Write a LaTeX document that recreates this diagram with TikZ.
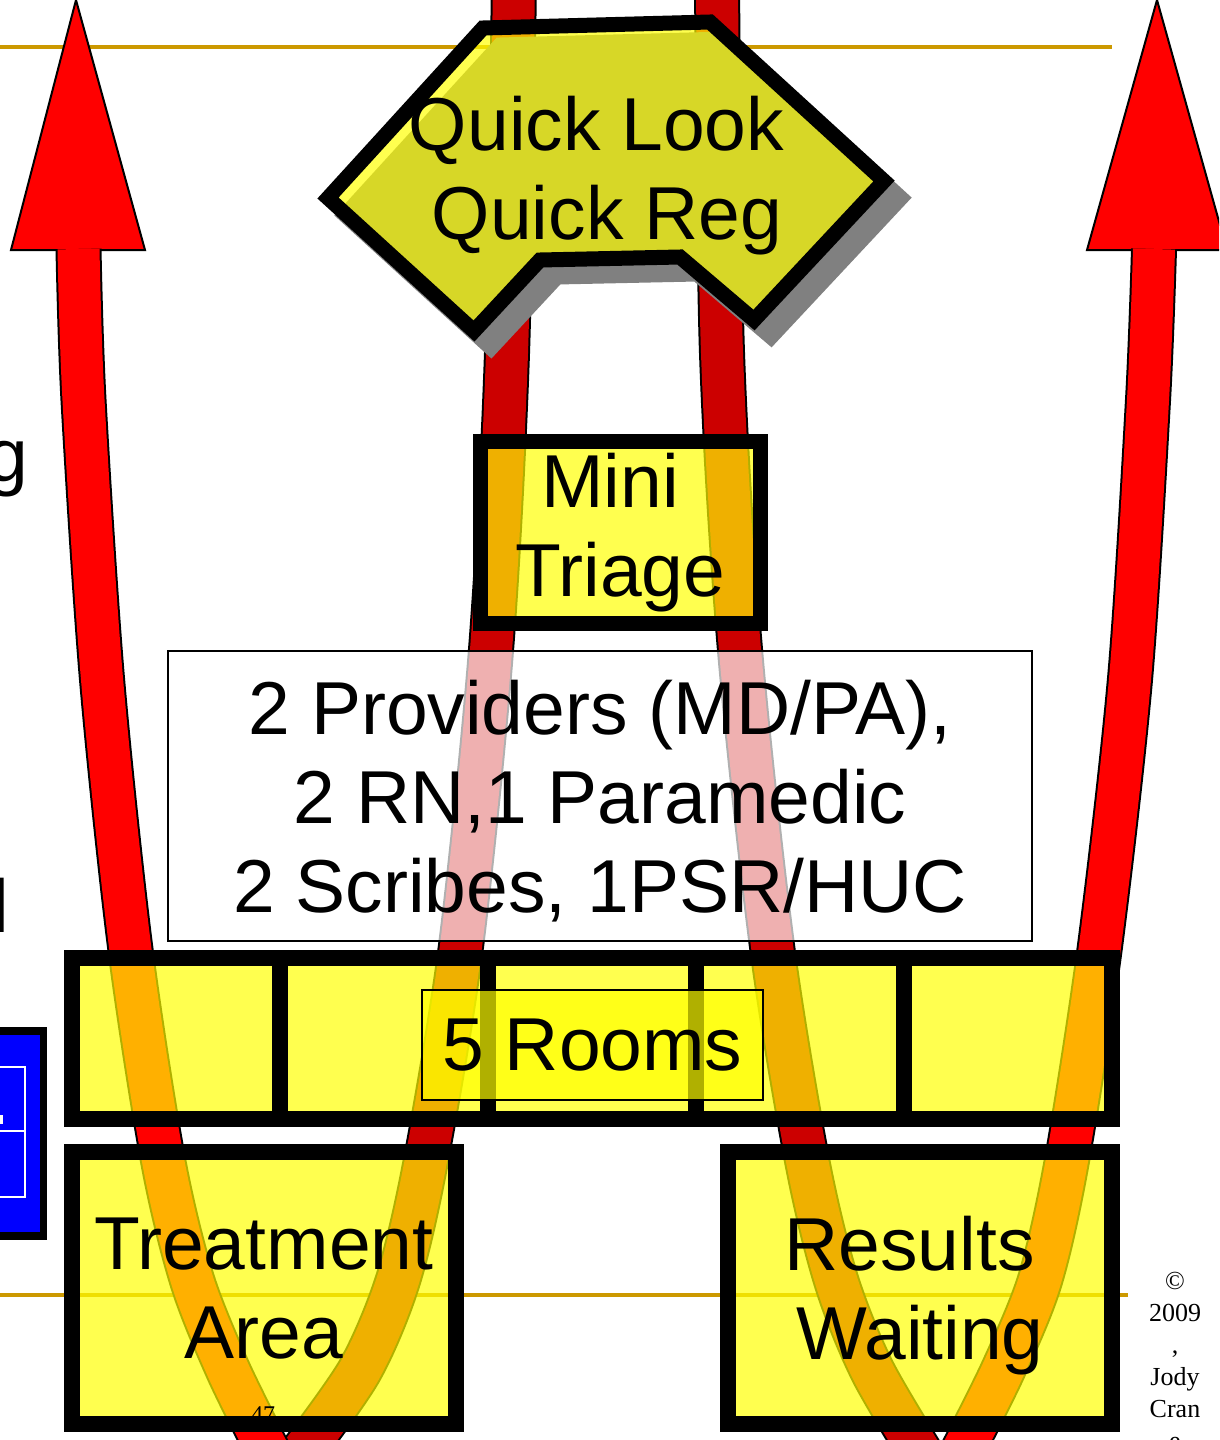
\documentclass[tikz,border=0pt]{standalone}
\usepackage{fontspec}
\setmainfont{Liberation Sans}
\newfontfamily\copyfont{Liberation Serif}
\usepackage{xcolor}
\definecolor{cGold}{HTML}{CC9900}
\definecolor{cRed}{HTML}{FF0000}
\definecolor{cDarkRed}{HTML}{CC0000}
\definecolor{cYellow}{HTML}{FFFF00}
\definecolor{cShadow}{HTML}{808080}
\definecolor{cBlue}{HTML}{0000FF}
\usepackage{tikz}
\usetikzlibrary{positioning}
\newcommand{\bigfont}{\fontsize{75}{89}\selectfont}
\newcommand{\trail}{\rule{0.278em}{0pt}}
\tikzset{
  node-room/.style={draw=black,line width=16pt,fill=cYellow,fill opacity=0.69,
    text opacity=1,inner sep=0pt,outer sep=0pt,align=center,font=\bigfont},
  node-cell/.style={node-room,minimum width=208pt,minimum height=161pt},
  node-note/.style={draw=black,line width=2pt,fill=white,fill opacity=0.69,
    text opacity=1,inner sep=0pt,align=center,font=\bigfont},
  node-small/.style={font=\copyfont\fontsize{26}{32}\selectfont,inner sep=0pt,align=center},
  band-edge/.style={draw=black,line width=46pt,line join=round},
  band-in/.style={draw=cDarkRed,line width=42pt,line join=round},
  band-out/.style={draw=cRed,line width=42pt,line join=round},
  arrow-head/.style={draw=black,line width=2pt,fill=cRed,line join=miter},
  rule-line/.style={draw=cGold,line width=4pt},
}

\begin{document}
\begin{tikzpicture}[x=1pt,y=-1pt]
  \useasboundingbox (0,0) rectangle (1219,1440);
  \clip (0,0) rectangle (1219,1440);
  \fill[white] (0,0) rectangle (1219,1440);

  % slide rules
  \draw[rule-line] (0,47) -- (1112,47);
  \draw[rule-line] (0,1295) -- (1128,1295);

  % cut-off bits at the left edge
  \node[font=\bigfont,inner sep=0pt,anchor=base east] (fragG) at (28,481) {g};
  \node[font=\bigfont,inner sep=0pt,anchor=base east] (fragL) at (9,932) {l};
  \fill[black] (-10,1027) rectangle (47,1240);
  \fill[cBlue] (-10,1035) rectangle (40,1232);
  \draw[white,line width=2.5pt] (-10,1067) rectangle (25,1197) (-10,1131) -- (25,1131);
  \fill[white] (0,1115) rectangle (3,1124);

  % U-turn arrows
  \filldraw[arrow-head] (76,0) -- (145,250) -- (11,250) -- cycle;
  \filldraw[arrow-head] (1157,0) -- (1227,250) -- (1087,250) -- cycle;
  \foreach \s in {band-edge,band-in}
    \draw[\s] plot[smooth] coordinates {(514,-20) (507,353) (491,650) (461,946)
      (426,1160) (398,1280) (360,1370) (300,1455)};
  \foreach \s in {band-edge,band-out}
    \draw[\s] plot[smooth] coordinates {(78.5,249) (83.5,400) (102,679) (130,946)
      (163,1160) (192,1280) (228,1370) (270,1455)};
  \foreach \s in {band-edge,band-in}
    \draw[\s] plot[smooth] coordinates {(717,-20) (722,353) (740,650) (772,946)
      (807,1160) (836,1280) (872,1370) (925,1460)};
  \foreach \s in {band-edge,band-out}
    \draw[\s] plot[smooth] coordinates {(1154,249) (1148,400) (1130,679) (1100,946)
      (1067,1160) (1040,1280) (1003,1370) (958,1460)};

  % quick look sign
  \filldraw[cShadow,line width=15pt,shift={(17,17)}] (483,28) -- (710,22) -- (884,181)
    -- (754,320) -- (680,257) -- (540,260) -- (474,331) -- (328,198) -- cycle;
  \filldraw[fill=cYellow,fill opacity=0.69,draw=black,line width=15pt,line join=miter]
    (483,28) -- (710,22) -- (884,181) -- (754,320) -- (680,257) -- (540,260)
    -- (474,331) -- (328,198) -- cycle;
  \node[font=\bigfont,align=center,inner sep=0pt] (qlook) at (607,176) {Quick Look\trail\\Quick Reg};

  \node[node-room,line width=15pt,minimum width=280pt,minimum height=182pt] (triage)
    at (620.5,532.5) {Mini\trail\\Triage};
  \node[node-note,minimum width=864pt,minimum height=290pt,text depth=0pt] (staff)
    at (600,796) {2 Providers (MD/PA),\\2 RN,1 Paramedic\\2 Scribes, 1PSR/HUC};

  % rooms row
  \node[node-cell] (room1) at (176,1038.5) {};
  \node[node-cell,right=0pt of room1] (room2) {};
  \node[node-cell,right=0pt of room2] (room3) {};
  \node[node-cell,right=0pt of room3] (room4) {};
  \node[node-cell,right=0pt of room4] (room5) {};
  \node[node-note,fill=cYellow,minimum width=341pt,minimum height=110pt] (rooms)
    at (592.5,1045) {5 Rooms};

  \node[node-room,minimum width=384.5pt,minimum height=272pt,text depth=0pt] (treat)
    at (263.75,1288) {Treatment\\Area};
  \node[node-room,minimum width=384pt,minimum height=272pt,text depth=0pt] (results)
    at (920,1288) {Results\trail\\Waiting};

  \node[font=\copyfont\fontsize{24}{24}\selectfont,inner sep=0pt,anchor=north] (pagenum)
    at (263,1406) {47};
  \node[node-small,anchor=north] (copyr) at (1175,1272) {©\\2009\\,\\Jody\\Cran\\e};
\end{tikzpicture}
\end{document}
